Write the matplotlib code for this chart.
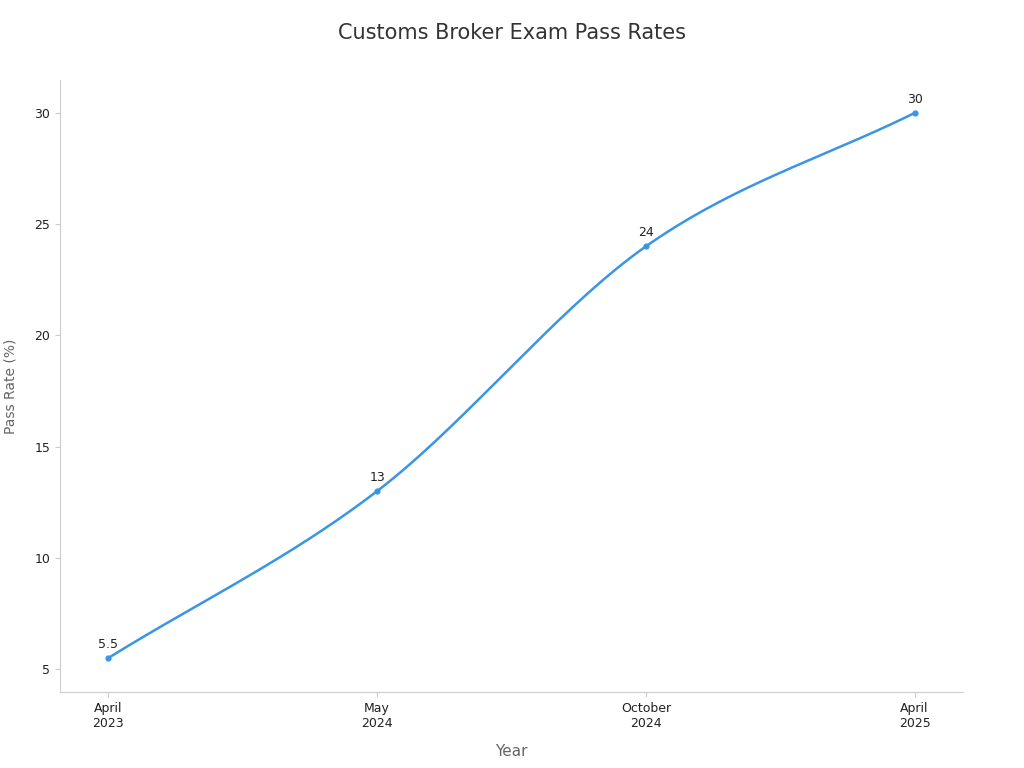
import numpy as np
import matplotlib
matplotlib.use("Agg")
import matplotlib.pyplot as plt

categories = ["April\n2023", "May\n2024", "October\n2024", "April\n2025"]
values = [5.5, 13, 24, 30]
labels = ["5.5", "13", "24", "30"]

fig = plt.figure(figsize=(10.24, 7.68), dpi=100)
ax = fig.add_axes([60/1024, 1-692/768, 903/1024, 612/768])

x = np.arange(len(values), dtype=float)
y = np.array(values, dtype=float)
# Catmull-Rom smoothing through the points
xs, ys = [], []
P = np.column_stack([x, y])
P = np.vstack([2*P[0]-P[1], P, 2*P[-1]-P[-2]])
for i in range(1, len(P)-2):
    p0, p1, p2, p3 = P[i-1], P[i], P[i+1], P[i+2]
    t = np.linspace(0, 1, 60)[:, None]
    c = 0.5*((2*p1) + (-p0+p2)*t + (2*p0-5*p1+4*p2-p3)*t**2 + (-p0+3*p1-3*p2+p3)*t**3)
    xs.extend(c[:, 0]); ys.extend(c[:, 1])
color = "#3a95e4"
ax.plot(xs, ys, color=color, lw=1.8)
ax.scatter(x, y, color=color, s=12, zorder=3)
for xi, yi, l in zip(x, y, labels):
    ax.annotate(l, (xi, yi), xytext=(0, 5), textcoords="offset points",
                ha="center", va="bottom", fontsize=9, color="#222222")

ax.set_xlim(-0.18, 3.18)
ax.set_ylim(3.97, 31.48)
ax.set_xticks(x)
ax.set_xticklabels(categories, fontsize=9, color="#222222")
ax.set_yticks([5, 10, 15, 20, 25, 30])
ax.tick_params(axis="y", labelsize=9, colors="#222222")
ax.tick_params(color="#cccccc")
for s in ["top", "right"]:
    ax.spines[s].set_visible(False)
for s in ["left", "bottom"]:
    ax.spines[s].set_color("#cccccc")
ax.set_xlabel("Year", fontsize=11, color="#666666", labelpad=10)
ax.set_ylabel("Pass Rate (%)", fontsize=10, color="#666666", labelpad=12)
fig.text(0.5, 1-33/768, "Customs Broker Exam Pass Rates", ha="center", va="center",
         fontsize=15, color="#333333")
fig.savefig("out.png", dpi=100)
